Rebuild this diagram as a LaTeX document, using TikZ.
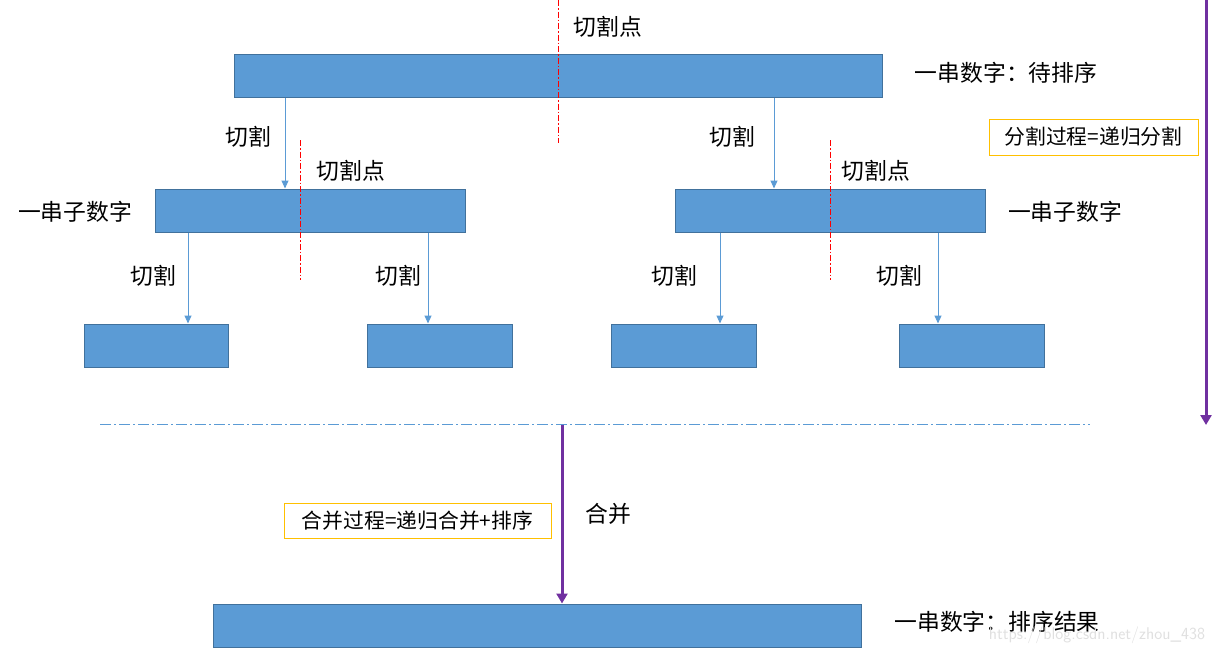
\documentclass[tikz,border=0pt]{standalone}
\usepackage{fontspec}
\setmainfont{Noto Sans CJK SC}
\usetikzlibrary{arrows.meta}
\definecolor{boxfill}{HTML}{5B9BD5}
\definecolor{boxline}{HTML}{41719C}
\definecolor{purp}{HTML}{7030A0}
\definecolor{yel}{HTML}{FFC000}
\tikzset{
  blk/.style={draw=boxline,line width=1pt,fill=boxfill,inner sep=0pt,minimum height=43pt},
  lbl/.style={inner sep=0pt,font=\fontsize{22.8}{27}\selectfont},
  note/.style={draw=yel,line width=1pt,inner sep=0pt,font=\fontsize{20.8}{25}\selectfont},
  arr/.style={draw=boxfill,line width=1pt,-{Triangle[width=7pt,length=8pt]}},
  cutline/.style={draw=red,line width=1pt,dash pattern=on 6pt off 2pt on 1.5pt off 2pt},
  sepline/.style={draw=boxfill,line width=1.2pt,dash pattern=on 11pt off 3pt on 2pt off 3pt},
  parr/.style={draw=purp,line width=3pt,-{Triangle[width=11pt,length=10pt]}},
}
\begin{document}
\begin{tikzpicture}[x=1pt,y=-1pt]
\useasboundingbox (0,0) rectangle (1216,653);
% boxes
\node[blk,minimum width=648pt] (top) at (558,75.5) {};
\node[blk,minimum width=310pt] (ml) at (310,210.5) {};
\node[blk,minimum width=310pt] (mr) at (830,210.5) {};
\node[blk,minimum width=144pt] (b1) at (156,345.5) {};
\node[blk,minimum width=145pt] (b2) at (439.5,345.5) {};
\node[blk,minimum width=145pt] (b3) at (683.5,345.5) {};
\node[blk,minimum width=145pt] (b4) at (971.5,345.5) {};
\node[blk,minimum width=648pt] (fin) at (537,625.5) {};
% cut lines
\coordinate (ct1) at (558,0);
\coordinate (cb1) at (558,143);
\draw[cutline] (ct1) -- (cb1);
\coordinate (ct2) at (300,140);
\coordinate (cb2) at (300,280);
\draw[cutline] (ct2) -- (cb2);
\coordinate (ct3) at (830,140);
\coordinate (cb3) at (830,280);
\draw[cutline] (ct3) -- (cb3);
% arrows
\coordinate (x1) at (285,0);
\coordinate (x2) at (774,0);
\coordinate (x3) at (188,0);
\coordinate (x4) at (428,0);
\coordinate (x5) at (720,0);
\coordinate (x6) at (938,0);
\draw[arr] (top.south -| x1) -- (ml.north -| x1);
\draw[arr] (top.south -| x2) -- (mr.north -| x2);
\draw[arr] (ml.south -| x3) -- (b1.north -| x3);
\draw[arr] (ml.south -| x4) -- (b2.north -| x4);
\draw[arr] (mr.south -| x5) -- (b3.north -| x5);
\draw[arr] (mr.south -| x6) -- (b4.north -| x6);
% labels
\node[lbl] (t1) at (608,27) {切割点};
\node[lbl] (t2) at (1006,73) {一串数字：待排序};
\node[lbl] (t3) at (248,137) {切割};
\node[lbl] (t4) at (732,137) {切割};
\node[lbl] (t5) at (351,171) {切割点};
\node[lbl] (t6) at (876,171) {切割点};
\node[lbl] (t7) at (75,212) {一串子数字};
\node[lbl] (t8) at (1065,212) {一串子数字};
\node[lbl] (t9) at (153,276) {切割};
\node[lbl] (t10) at (398,276) {切割};
\node[lbl] (t11) at (674,276) {切割};
\node[lbl] (t12) at (899,276) {切割};
\node[lbl] (t13) at (608,514) {合并};
\node[lbl] (t14) at (997,622) {一串数字：排序结果};
\node[inner sep=0pt,text=black!12,font=\fontsize{17}{20}\selectfont\sffamily] (wm) at (1097,635) {https://blog.csdn.net/zhou\_438};
% notes
\node[note,minimum width=209pt,minimum height=36pt] (n1) at (1093.5,137) {分割过程=递归分割};
\node[note,minimum width=267pt,minimum height=35pt] (n2) at (417.5,520.5) {合并过程=递归合并+排序};
% separator
\coordinate (sl) at (100,424.5);
\coordinate (sr) at (1090,424.5);
\draw[sepline] (sl) -- (sr);
% purple arrows
\coordinate (pm) at (562,424.5);
\draw[parr] (pm) -- (fin.north -| pm);
\coordinate (pt) at (1206,0);
\coordinate (pb) at (1206,425);
\draw[parr] (pt) -- (pb);
\end{tikzpicture}
\end{document}
